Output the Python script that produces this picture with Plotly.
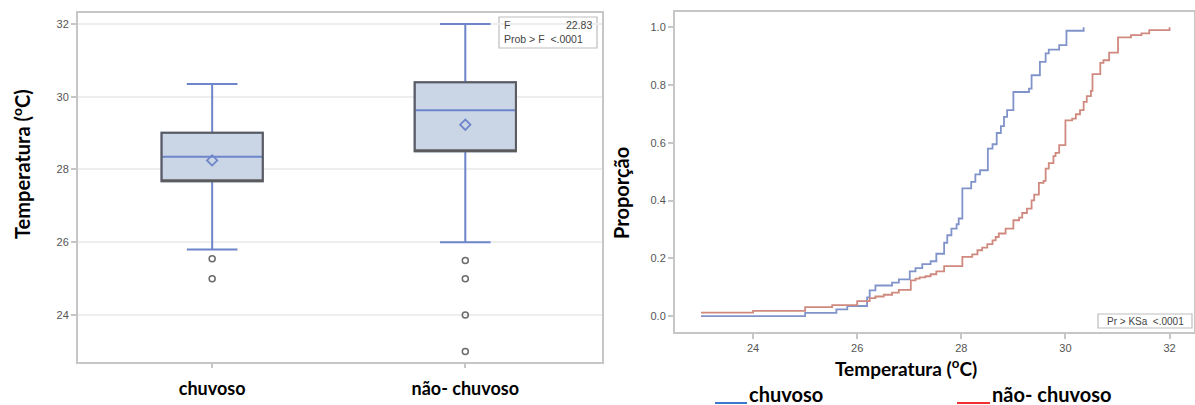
import plotly.graph_objects as go

W, H = 1195, 405

# ---------------- data ----------------
categories = ["chuvoso", "não- chuvoso"]
q1 = [27.68, 28.50]
median = [28.35, 29.63]
q3 = [29.01, 30.40]
lower_whisker = [25.80, 26.00]
upper_whisker = [30.35, 32.00]
means = [28.25, 29.23]
outliers_chuvoso = [25.55, 25.00]
outliers_nao = [25.50, 25.00, 24.00, 23.00]

ecdf_chuvoso_x = [23.0, 25.0, 25.6, 25.81, 26.19, 26.24, 26.35, 26.67, 26.8, 27.01, 27.12,
                  27.25, 27.41, 27.52, 27.67, 27.73, 27.81, 27.91, 27.95, 28.02, 28.19,
                  28.27, 28.36, 28.51, 28.6, 28.68, 28.76, 28.82, 28.88, 29.0, 29.3,
                  29.35, 29.51, 29.62, 29.68, 29.88, 30.02, 30.35]
ecdf_chuvoso_y = [0.0, 0.011, 0.023, 0.035, 0.065, 0.089, 0.106, 0.116, 0.127, 0.155, 0.166,
                  0.18, 0.19, 0.216, 0.254, 0.28, 0.303, 0.318, 0.338, 0.442, 0.465,
                  0.491, 0.505, 0.58, 0.595, 0.634, 0.658, 0.69, 0.713, 0.776, 0.788,
                  0.834, 0.88, 0.91, 0.923, 0.938, 0.988, 1.0]
ecdf_nao_x = [23.0, 24.0, 25.0, 25.52, 26.0, 26.24, 26.35, 26.51, 26.67, 26.8, 27.03, 27.12,
              27.2, 27.31, 27.41, 27.52, 27.67, 28.02, 28.21, 28.31, 28.4, 28.5, 28.6, 28.66,
              28.72, 28.85, 29.0, 29.11, 29.17, 29.26, 29.35, 29.4, 29.49, 29.58, 29.62,
              29.68, 29.77, 29.81, 29.88, 30.0, 30.13, 30.2, 30.28, 30.35, 30.41, 30.49,
              30.52, 30.67, 30.73, 30.84, 31.01, 31.26, 31.46, 31.61, 32.0]
ecdf_nao_y = [0.012, 0.018, 0.031, 0.038, 0.052, 0.062, 0.068, 0.074, 0.081, 0.091, 0.124, 0.13,
              0.134, 0.138, 0.145, 0.155, 0.173, 0.205, 0.214, 0.228, 0.237, 0.249, 0.262, 0.274,
              0.286, 0.303, 0.332, 0.341, 0.357, 0.372, 0.401, 0.421, 0.461, 0.468, 0.511,
              0.53, 0.554, 0.565, 0.592, 0.678, 0.684, 0.699, 0.713, 0.742, 0.762, 0.78,
              0.838, 0.877, 0.886, 0.912, 0.965, 0.973, 0.979, 0.99, 1.0]

box_tick_vals = [24, 26, 28, 30, 32]
ecdf_x_ticks = [24, 26, 28, 30, 32]
ecdf_y_ticks = [0.0, 0.2, 0.4, 0.6, 0.8, 1.0]

# ---------------- styles ----------------
BOX_FILL = "#cad5e6"
BOX_EDGE = "#5c5c5c"
WHISK = "#6e86c9"
BLUE_LINE = "#8194ca"
RED_LINE = "#d0897e"
AXIS = "#c6c6c6"
TICKC = "#555555"
TICKFONT = dict(family="Liberation Sans, Arial", size=11, color=TICKC)
BIG = "Lato, Open Sans, sans-serif"

def px(x):
    return x / W

def py(y):
    return 1 - y / H

fig = go.Figure()

# Box plot: filled box with blue whiskers/median
fig.add_trace(go.Box(
    x=categories, q1=q1, median=median, q3=q3,
    lowerfence=lower_whisker, upperfence=upper_whisker,
    fillcolor=BOX_FILL, line=dict(color=WHISK, width=2),
    width=0.4, whiskerwidth=0.5, boxpoints=False,
    xaxis="x", yaxis="y", showlegend=False, hoverinfo="skip"))
# Gray outline of box on top
fig.add_trace(go.Box(
    x=categories, q1=q1, median=q1, q3=q3,
    lowerfence=q1, upperfence=q3,
    fillcolor="rgba(0,0,0,0)", line=dict(color=BOX_EDGE, width=2),
    width=0.4, whiskerwidth=0, boxpoints=False,
    xaxis="x", yaxis="y", showlegend=False, hoverinfo="skip"))
# means
fig.add_trace(go.Scatter(
    x=categories, y=means, mode="markers",
    marker=dict(symbol="diamond-open", size=8, color=WHISK, line=dict(width=1.8)),
    xaxis="x", yaxis="y", showlegend=False))
# outliers
fig.add_trace(go.Scatter(
    x=[categories[0]] * len(outliers_chuvoso) + [categories[1]] * len(outliers_nao),
    y=outliers_chuvoso + outliers_nao, mode="markers",
    marker=dict(symbol="circle-open", size=6, color="#6a6a6a", line=dict(width=1.5)),
    xaxis="x", yaxis="y", showlegend=False))

# ECDF
fig.add_trace(go.Scatter(
    x=ecdf_chuvoso_x, y=ecdf_chuvoso_y, mode="lines", line=dict(color=BLUE_LINE, width=1.8, shape="hv"),
    xaxis="x2", yaxis="y2", showlegend=False))
fig.add_trace(go.Scatter(
    x=ecdf_nao_x, y=ecdf_nao_y, mode="lines", line=dict(color=RED_LINE, width=1.8, shape="hv"),
    xaxis="x2", yaxis="y2", showlegend=False))

axis_common = dict(showline=True, linecolor=AXIS, linewidth=2, mirror=True,
                   ticks="outside", ticklen=5, tickcolor=AXIS, tickwidth=1.5,
                   zeroline=False, tickfont=TICKFONT)

fig.update_layout(
    width=W, height=H,
    margin=dict(l=0, r=0, t=0, b=0),
    paper_bgcolor="white", plot_bgcolor="white",
    boxmode="overlay",
    xaxis=dict(axis_common, domain=[px(78), px(602)], type="category",
               categoryorder="array", categoryarray=categories,
               range=[-0.53, 1.54], showgrid=False, ticklen=4,
               tickfont=dict(family=BIG, size=18, color="black", weight="bold"),
               ticklabelstandoff=5, anchor="y"),
    yaxis=dict(axis_common, domain=[py(362), py(13)], range=[22.71, 32.3],
               tickvals=box_tick_vals, showgrid=True, gridcolor="#eeeeee", gridwidth=1.5,
               anchor="x"),
    xaxis2=dict(axis_common, domain=[px(675), px(1194)], range=[22.5, 32.47],
                tickvals=ecdf_x_ticks, showgrid=False, anchor="y2"),
    yaxis2=dict(axis_common, domain=[py(332), py(12)], range=[-0.055, 1.053],
                tickvals=ecdf_y_ticks, tickformat=".1f", showgrid=False, anchor="x2"),
)

annotations = [
    dict(text="<b>Temperatura (<sup>o</sup>C)</b>", x=px(21), y=py(164), textangle=-90,
         font=dict(family=BIG, size=20, color="black")),
    dict(text="<b>Proporção</b>", x=px(621), y=py(193), textangle=-90,
         font=dict(family=BIG, size=20, color="black")),
    dict(text="<b>Temperatura (<sup>o</sup>C)</b>", x=px(906), y=py(367),
         font=dict(family=BIG, size=19, color="black")),
    dict(text="<b>chuvoso</b>", x=px(747), y=py(394),
         xanchor="left", font=dict(family=BIG, size=20, color="black")),
    dict(text="<b>não- chuvoso</b>", x=px(990), y=py(394),
         xanchor="left", font=dict(family=BIG, size=20, color="black")),
    # F test inset
    dict(text="F", x=px(502), y=py(25), xanchor="left",
         font=dict(family="Liberation Sans, Arial", size=10.5, color="#444")),
    dict(text="22.83", x=px(594), y=py(25), xanchor="right",
         font=dict(family="Liberation Sans, Arial", size=10.5, color="#444")),
    dict(text="Prob > F  <.0001", x=px(502), y=py(39), xanchor="left",
         font=dict(family="Liberation Sans, Arial", size=10.5, color="#444")),
    dict(text="Pr > KSa  <.0001", x=px(1145), y=py(321),
         font=dict(family="Liberation Sans, Arial", size=10, color="#444")),
]
for a in annotations:
    a.setdefault("xanchor", "center")
    a.update(xref="paper", yref="paper", showarrow=False, yanchor="middle")
fig.update_layout(annotations=annotations)

fig.update_layout(shapes=[
    dict(type="rect", xref="paper", yref="paper", x0=px(499), x1=px(597), y0=py(48), y1=py(17),
         line=dict(color="#bdbdbd", width=1.2), fillcolor="white", layer="below"),
    dict(type="rect", xref="paper", yref="paper", x0=px(1098), x1=px(1192), y0=py(328), y1=py(314),
         line=dict(color="#bdbdbd", width=1.2), fillcolor="white", layer="above"),
    # legend sample lines
    dict(type="line", xref="paper", yref="paper", x0=px(715), x1=px(747), y0=py(403), y1=py(403),
         line=dict(color="#3a78cc", width=2)),
    dict(type="line", xref="paper", yref="paper", x0=px(957), x1=px(990), y0=py(403), y1=py(403),
         line=dict(color="#ee3030", width=2)),
])

fig.write_html("out.html")
